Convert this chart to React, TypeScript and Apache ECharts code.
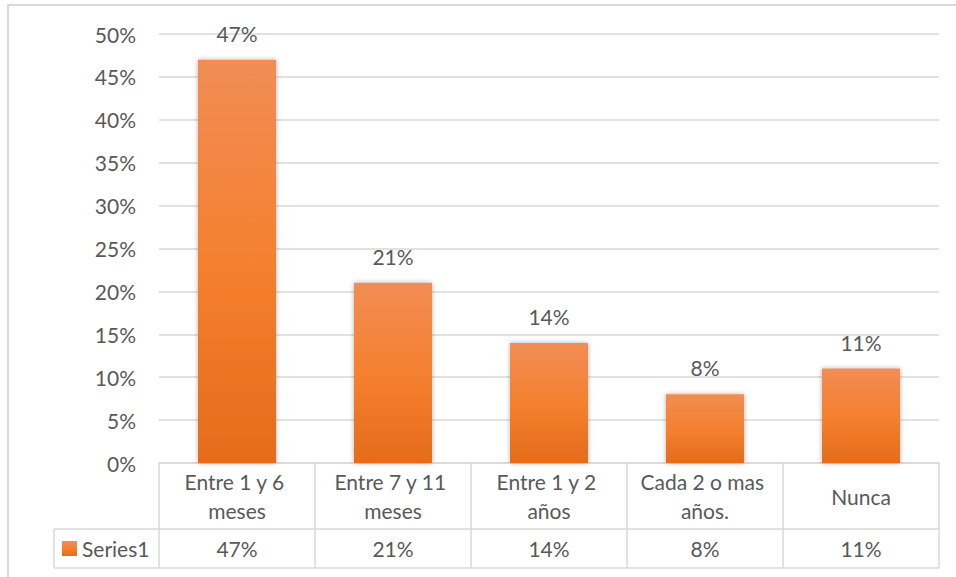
import React, { useEffect, useRef } from "react";
import * as echarts from "echarts";

const categories = [
  "Entre 1 y 6 meses",
  "Entre 7 y 11 meses",
  "Entre 1 y 2 años",
  "Cada 2 o mas años.",
  "Nunca",
];
const values = [47, 21, 14, 8, 11];
const seriesName = "Series1";
const yMin = 0;
const yMax = 50;
const yInterval = 5;

const FONT = "Lato";
const TEXT = "#595959";
const LINE = "#D9D9D9";
const FS = 21;

const GRID_LEFT = 159;
const GRID_RIGHT_X = 939;
const GRID_TOP = 34;
const GRID_BOTTOM_Y = 463;
const ROW1_BOTTOM = 529;
const ROW2_BOTTOM = 568;
const LEGEND_CELL_LEFT = 54;

export default function App() {
  const ref = useRef<HTMLDivElement>(null);
  useEffect(() => {
    if (!ref.current) return;
    const chart = echarts.init(ref.current, null, { renderer: "svg" });
    const barColor = new echarts.graphic.LinearGradient(0, 0, 0, 1, [
      { offset: 0, color: "#F18D55" },
      { offset: 0.5, color: "#F5802F" },
      { offset: 1, color: "#E46C1B" },
    ]);
    chart.setOption({
      animation: false,
      backgroundColor: "#ffffff",
      textStyle: { fontFamily: FONT },
      grid: {
        left: GRID_LEFT,
        right: 956 - GRID_RIGHT_X,
        top: GRID_TOP,
        bottom: 577 - GRID_BOTTOM_Y,
        containLabel: false,
      },
      legend: {
        data: [seriesName],
        left: 62,
        top: 538,
        padding: 0,
        icon: "rect",
        itemWidth: 15,
        itemHeight: 15,
        textStyle: { fontFamily: FONT, fontSize: FS, lineHeight: 21, color: TEXT },
      },
      xAxis: {
        type: "category",
        data: categories,
        axisLine: { show: true, lineStyle: { color: LINE, width: 1.5 } },
        axisTick: {
          show: true,
          length: ROW2_BOTTOM - GRID_BOTTOM_Y,
          lineStyle: { color: LINE, width: 1.5 },
        },
        axisLabel: {
          interval: 0,
          margin: (ROW1_BOTTOM - GRID_BOTTOM_Y) / 2,
          verticalAlign: "middle",
          color: TEXT,
          fontFamily: FONT,
          fontSize: FS,
          lineHeight: 29,
          width: 144,
          overflow: "break",
        },
      },
      yAxis: {
        type: "value",
        min: yMin,
        max: yMax,
        interval: yInterval,
        axisLine: { show: false },
        axisTick: { show: false },
        splitLine: { lineStyle: { color: LINE, width: 1.5 } },
        axisLabel: {
          formatter: "{value}%",
          margin: 23,
          color: TEXT,
          fontFamily: FONT,
          fontSize: FS,
        },
      },
      series: [
        {
          name: seriesName,
          type: "bar",
          data: values,
          barWidth: "50%",
          itemStyle: {
            color: barColor,
            shadowBlur: 5,
            shadowColor: "rgba(0,0,0,0.3)",
          },
          label: {
            show: true,
            position: "top",
            distance: 16,
            formatter: "{c}%",
            color: TEXT,
            fontFamily: FONT,
            fontSize: FS,
          },
        },
      ],
    });

    const rowMid = (ROW1_BOTTOM + ROW2_BOTTOM) / 2;
    const valueTexts = values.map((v, i) => {
      const px = chart.convertToPixel({ xAxisIndex: 0 }, i) as number;
      return {
        type: "text",
        x: px,
        y: rowMid,
        style: {
          text: v + "%",
          fill: TEXT,
          font: `${FS}px ${FONT}`,
          textAlign: "center",
          textVerticalAlign: "middle",
        },
      };
    });

    chart.setOption({
      graphic: [
        {
          type: "rect",
          shape: { x: 8, y: 5, width: 1000, height: 700 },
          style: { fill: "none", stroke: LINE, lineWidth: 2 },
          silent: true,
        },
        {
          type: "line",
          shape: { x1: LEGEND_CELL_LEFT, y1: ROW1_BOTTOM, x2: GRID_RIGHT_X, y2: ROW1_BOTTOM },
          style: { stroke: LINE, lineWidth: 1.5 },
        },
        {
          type: "line",
          shape: { x1: LEGEND_CELL_LEFT, y1: ROW2_BOTTOM, x2: GRID_RIGHT_X, y2: ROW2_BOTTOM },
          style: { stroke: LINE, lineWidth: 1.5 },
        },
        {
          type: "line",
          shape: { x1: LEGEND_CELL_LEFT, y1: ROW1_BOTTOM, x2: LEGEND_CELL_LEFT, y2: ROW2_BOTTOM },
          style: { stroke: LINE, lineWidth: 1.5 },
        },
        ...valueTexts,
      ],
    });

    return () => chart.dispose();
  }, []);
  return (
    <div
      ref={ref}
      style={{ position: "absolute", left: 0, top: 0, width: 956, height: 577 }}
    />
  );
}
